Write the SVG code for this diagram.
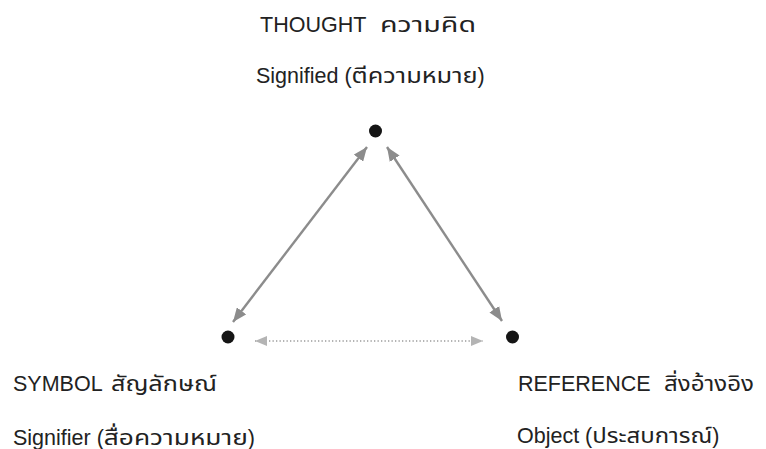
<svg xmlns="http://www.w3.org/2000/svg" width="766" height="449" viewBox="0 0 766 449">
<style>
.t{font-family:"Liberation Sans","Noto Sans","Noto Sans Thai",sans-serif;font-size:21.5px;fill:#222}
.dot{fill:#151515}
.ln{stroke:#8c8c8c;stroke-width:2.4;fill:none}
.dt{stroke:#9a9a9a;stroke-width:1.3;stroke-dasharray:1.3 2.2;fill:none}
</style>
<defs>
<marker id="ah" viewBox="0 0 12 10" refX="12" refY="5" markerWidth="14" markerHeight="12" markerUnits="userSpaceOnUse" orient="auto-start-reverse">
<path d="M0,0 L12,5 L0,10 Z" fill="#8c8c8c"/>
</marker>
<marker id="ah2" viewBox="0 0 12 10" refX="12" refY="5" markerWidth="14" markerHeight="10" markerUnits="userSpaceOnUse" orient="auto-start-reverse">
<path d="M0,0 L12,5 L0,10 Z" fill="#b4b4b4"/>
</marker>
</defs>
<rect width="766" height="449" fill="#fff"/>
<g id="connectors">
<line class="ln" x1="233" y1="322" x2="367" y2="147" marker-start="url(#ah)" marker-end="url(#ah)"/>
<line class="ln" x1="387" y1="147" x2="502" y2="321" marker-start="url(#ah)" marker-end="url(#ah)"/>
<line class="dt" x1="255" y1="341" x2="483" y2="341" marker-start="url(#ah2)" marker-end="url(#ah2)"/>
</g>
<g id="thought">
<circle class="dot" cx="375.5" cy="131" r="6.5"/>
<text class="t" x="260" y="32">THOUGHT <tspan x="380" textLength="96" lengthAdjust="spacingAndGlyphs">ความคิด</tspan></text>
<text class="t" x="256" y="83">Signified (<tspan textLength="126" lengthAdjust="spacingAndGlyphs">ตีความหมาย</tspan>)</text>
</g>
<g id="symbol">
<circle class="dot" cx="228" cy="337" r="6.5"/>
<text class="t" x="13" y="391">SYMBOL <tspan x="111" textLength="106" lengthAdjust="spacingAndGlyphs">สัญลักษณ์</tspan></text>
<text class="t" x="13" y="445">Signifier (<tspan textLength="144" lengthAdjust="spacingAndGlyphs">สื่อความหมาย</tspan>)</text>
</g>
<g id="reference">
<circle class="dot" cx="512.5" cy="337" r="6.5"/>
<text class="t" x="518" y="391">REFERENCE <tspan x="664" textLength="90" lengthAdjust="spacingAndGlyphs">สิ่งอ้างอิง</tspan></text>
<text class="t" x="517" y="443">Object (<tspan textLength="120" lengthAdjust="spacingAndGlyphs">ประสบการณ์</tspan>)</text>
</g>
</svg>
